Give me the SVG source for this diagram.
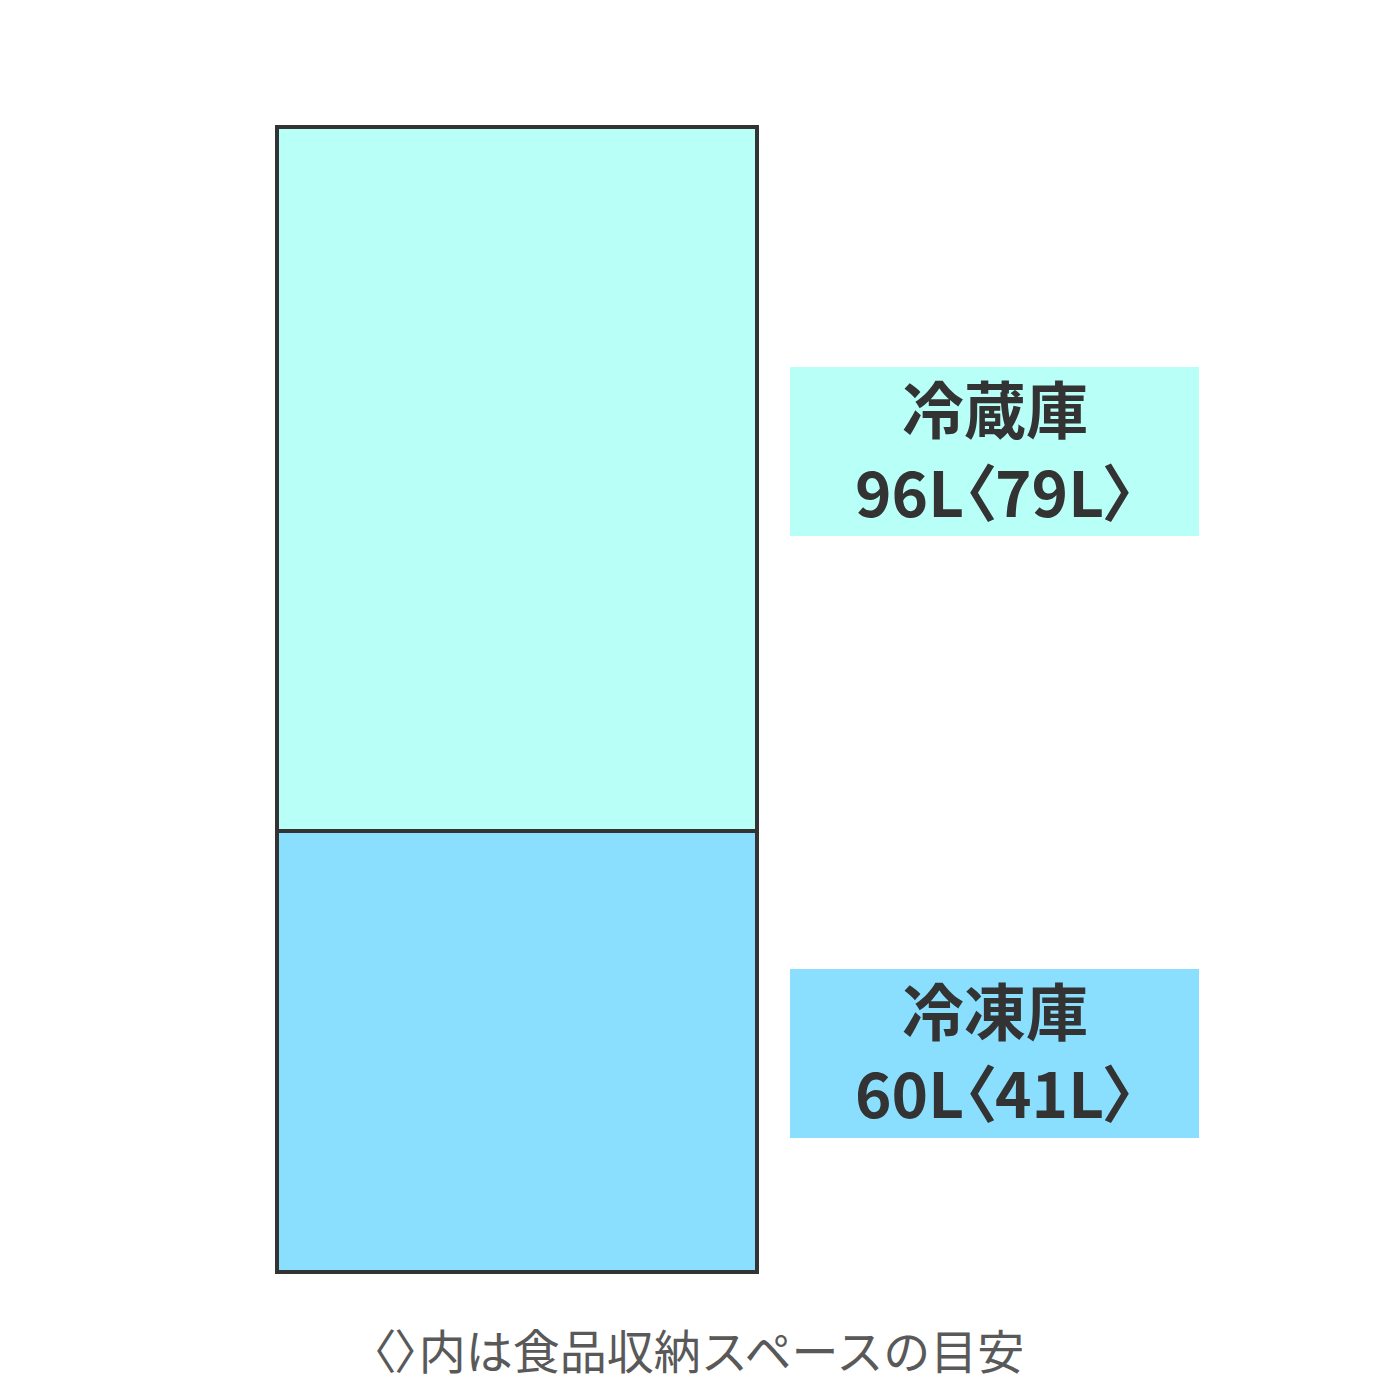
<svg xmlns="http://www.w3.org/2000/svg" width="1400" height="1400" viewBox="0 0 1400 1400">
<style>
.lbl{font-family:"Noto Sans CJK JP","Noto Sans",sans-serif;font-weight:bold;font-size:62px;fill:#333;text-anchor:middle}
.num{font-feature-settings:"palt"}
.cap{font-family:"Noto Sans CJK JP","Noto Sans",sans-serif;font-size:47px;fill:#595959;text-anchor:middle}
.br{font-feature-settings:"palt"}
.comp{stroke:#333;stroke-width:4}
</style>
<rect width="1400" height="1400" fill="#fff"/>
<g id="fridge">
<rect class="comp" x="277" y="127" width="480" height="704" fill="#b8fff8"/>
<rect class="comp" x="277" y="831" width="480" height="441" fill="#8adfff"/>
</g>
<g id="label-fridge">
<rect x="790" y="367" width="409" height="169" fill="#b8fff8"/>
<text class="lbl" x="995" y="434">冷蔵庫</text>
<text class="lbl num" x="995" y="517">96L〈79L〉</text>
</g>
<g id="label-freezer">
<rect x="790" y="969" width="409" height="169" fill="#8adfff"/>
<text class="lbl" x="995" y="1036">冷凍庫</text>
<text class="lbl num" x="995" y="1118">60L〈41L〉</text>
</g>
<g id="connectors"/>
<text class="cap" x="698" y="1369"><tspan class="br">〈〉</tspan>内は食品収納スペースの目安</text>
</svg>
